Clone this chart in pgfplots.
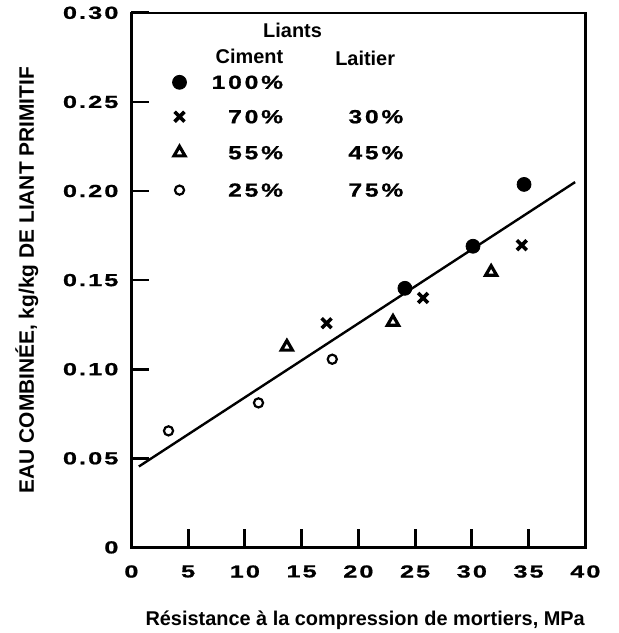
\documentclass[border=0pt]{standalone}
\usepackage{fontspec}
\setmainfont{Liberation Sans}
\newfontfamily\tickfont[FakeStretch=1.45,LetterSpace=12,FakeBold=1]{Liberation Sans}
\newfontfamily\pctfont[FakeStretch=1.3,LetterSpace=15,FakeBold=1]{Liberation Sans}
\usepackage{pgfplots}
\pgfplotsset{compat=1.18}

\begin{document}
\begin{tikzpicture}
\begin{axis}[
  name=main,
  width=228pt, height=268.5pt, scale only axis,
  xmin=0, xmax=40, ymin=0, ymax=0.30,
  xtick={0,5,10,15,20,25,30,35,40},
  xticklabels={0,5,10,15,20,25,30,35,40},
  ytick={0,0.05,0.10,0.15,0.20,0.25,0.30},
  yticklabels={0,0.05,0.10,0.15,0.20,0.25,0.30},
  major tick length=9pt,
  tick align=inside,
  xtick pos=left, ytick pos=left,
  every tick/.style={black, line width=1.4pt},
  axis line style={line width=1.3pt},
  xticklabel style={font=\tickfont\bfseries\fontsize{8.75}{10}\selectfont, yshift=-5.5pt},
  yticklabel style={font=\tickfont\bfseries\fontsize{8.75}{10}\selectfont, xshift=-3pt},
  every axis x label/.style={at={(axis description cs:0.515,-0.136)}, anchor=center, inner sep=0pt},
  every axis y label/.style={at={(axis description cs:-0.2303,0.5)}, rotate=90, anchor=center, inner sep=0pt},
  xlabel={Résistance à la compression de mortiers, MPa},
  ylabel={EAU COMBINÉE, kg/kg DE LIANT PRIMITIF},
  xlabel style={font=\bfseries\fontsize{10}{12}\selectfont},
  ylabel style={font=\bfseries\fontsize{10.5}{12}\selectfont},
  clip=false,
]
% inside tick marks, as short segments through the axis
\addplot[black, line width=1.4pt, forget plot] coordinates {(5,0) (5,0.0101)};
\addplot[black, line width=1.4pt, forget plot] coordinates {(10,0) (10,0.0101)};
\addplot[black, line width=1.4pt, forget plot] coordinates {(15,0) (15,0.0101)};
\addplot[black, line width=1.4pt, forget plot] coordinates {(20,0) (20,0.0101)};
\addplot[black, line width=1.4pt, forget plot] coordinates {(25,0) (25,0.0101)};
\addplot[black, line width=1.4pt, forget plot] coordinates {(30,0) (30,0.0101)};
\addplot[black, line width=1.4pt, forget plot] coordinates {(35,0) (35,0.0101)};
\addplot[black, line width=1.4pt, forget plot] coordinates {(0,0.05) (1.58,0.05)};
\addplot[black, line width=1.4pt, forget plot] coordinates {(0,0.10) (1.58,0.10)};
\addplot[black, line width=1.4pt, forget plot] coordinates {(0,0.15) (1.58,0.15)};
\addplot[black, line width=1.4pt, forget plot] coordinates {(0,0.20) (1.58,0.20)};
\addplot[black, line width=1.4pt, forget plot] coordinates {(0,0.25) (1.58,0.25)};
% regression line
\addplot[black, line width=1.2pt] coordinates {(0.66,0.0454) (39.1,0.205)};
% 100% ciment
\addplot[only marks, mark=*, mark size=3.5pt, black] coordinates {(24.1,0.1454) (30.1,0.169) (34.6,0.2037) (4.24,0.261)};
% 70/30
\addplot[only marks, mark=x, mark size=3.5pt, black, line width=1.8pt] coordinates {(17.2,0.1258) (25.7,0.140) (34.4,0.1696) (4.24,0.2417)};
% 55/45
\addplot[only marks, mark=triangle, mark size=3.2pt, black, line width=1.6pt] coordinates {(13.7,0.1125) (23.05,0.1265) (31.7,0.1545) (4.24,0.2215)};
% 25/75
\addplot[only marks, mark=o, mark size=2.3pt, black, line width=1.1pt] coordinates {(3.27,0.0654) (11.2,0.0811) (17.7,0.1056) (4.24,0.2005)};
% legend text
\node[font=\bfseries\fontsize{10}{12}\selectfont] at (axis cs:14.2,0.290) {Liants};
\node[font=\bfseries\fontsize{10}{12}\selectfont] at (axis cs:10.4,0.2756) {Ciment};
\node[font=\bfseries\fontsize{10}{12}\selectfont] at (axis cs:20.6,0.2746) {Laitier};
\node[anchor=east, font=\pctfont\bfseries\fontsize{9.5}{11}\selectfont, inner sep=0pt] at (axis cs:13.4,0.261) {100\%};
\node[anchor=east, font=\pctfont\bfseries\fontsize{9.5}{11}\selectfont, inner sep=0pt] at (axis cs:13.4,0.2417) {70\%};
\node[anchor=east, font=\pctfont\bfseries\fontsize{9.5}{11}\selectfont, inner sep=0pt] at (axis cs:13.4,0.2215) {55\%};
\node[anchor=east, font=\pctfont\bfseries\fontsize{9.5}{11}\selectfont, inner sep=0pt] at (axis cs:13.4,0.2005) {25\%};
\node[anchor=east, font=\pctfont\bfseries\fontsize{9.5}{11}\selectfont, inner sep=0pt] at (axis cs:24.0,0.2417) {30\%};
\node[anchor=east, font=\pctfont\bfseries\fontsize{9.5}{11}\selectfont, inner sep=0pt] at (axis cs:24.0,0.2215) {45\%};
\node[anchor=east, font=\pctfont\bfseries\fontsize{9.5}{11}\selectfont, inner sep=0pt] at (axis cs:24.0,0.2005) {75\%};
\end{axis}
\path (main.south west) ++(-66pt,-43pt) rectangle ++(310.5pt,316.5pt);
\end{tikzpicture}
\end{document}
